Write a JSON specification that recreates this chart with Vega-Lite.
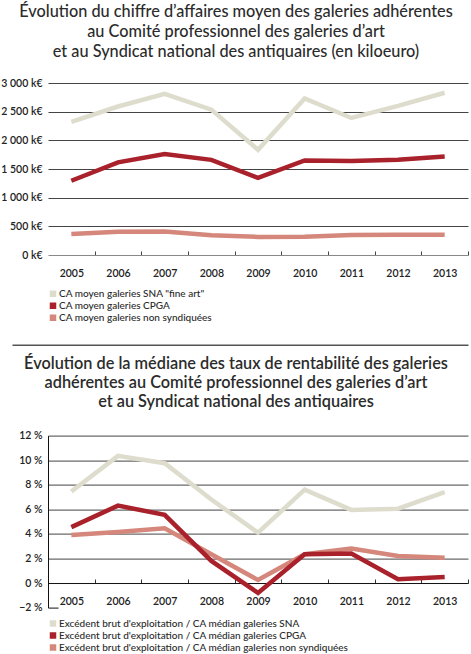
{
  "$schema": "https://vega.github.io/schema/vega-lite/v6.json",
  "padding": {"left": 0, "top": 3, "right": 0, "bottom": 0},
  "background": "white",
  "bounds": "flush",
  "spacing": 89.8,
  "config": {
    "view": {"stroke": null},
    "font": "Lato",
    "title": {"font": "Lato", "fontSize": 16.3, "fontWeight": 500, "color": "#2b2b2b", "lineHeight": 20, "anchor": "middle", "frame": "group", "dx": -22},
    "axis": {"labelFont": "Lato", "labelFontWeight": 600, "labelFontSize": 10.5, "labelColor": "#222", "title": null},
    "legend": {"labelFont": "Lato", "labelFontSize": 10, "labelFontWeight": 500, "labelColor": "#2a2a2a", "labelLimit": 450, "symbolType": "square", "symbolSize": 4, "symbolStrokeWidth": 4.5, "labelOffset": 1, "rowPadding": 0, "padding": 0, "title": null}
  },
  "datasets": {
    "ca": [
      {"year": "2005", "s": "CA moyen galeries SNA \"fine art\"", "v": 2320},
      {"year": "2006", "s": "CA moyen galeries SNA \"fine art\"", "v": 2590},
      {"year": "2007", "s": "CA moyen galeries SNA \"fine art\"", "v": 2810},
      {"year": "2008", "s": "CA moyen galeries SNA \"fine art\"", "v": 2535},
      {"year": "2009", "s": "CA moyen galeries SNA \"fine art\"", "v": 1835},
      {"year": "2010", "s": "CA moyen galeries SNA \"fine art\"", "v": 2730},
      {"year": "2011", "s": "CA moyen galeries SNA \"fine art\"", "v": 2390},
      {"year": "2012", "s": "CA moyen galeries SNA \"fine art\"", "v": 2600},
      {"year": "2013", "s": "CA moyen galeries SNA \"fine art\"", "v": 2830},
      {"year": "2005", "s": "CA moyen galeries non syndiquées", "v": 365},
      {"year": "2006", "s": "CA moyen galeries non syndiquées", "v": 405},
      {"year": "2007", "s": "CA moyen galeries non syndiquées", "v": 410},
      {"year": "2008", "s": "CA moyen galeries non syndiquées", "v": 345},
      {"year": "2009", "s": "CA moyen galeries non syndiquées", "v": 315},
      {"year": "2010", "s": "CA moyen galeries non syndiquées", "v": 320},
      {"year": "2011", "s": "CA moyen galeries non syndiquées", "v": 350},
      {"year": "2012", "s": "CA moyen galeries non syndiquées", "v": 355},
      {"year": "2013", "s": "CA moyen galeries non syndiquées", "v": 355},
      {"year": "2005", "s": "CA moyen galeries CPGA", "v": 1295},
      {"year": "2006", "s": "CA moyen galeries CPGA", "v": 1615},
      {"year": "2007", "s": "CA moyen galeries CPGA", "v": 1760},
      {"year": "2008", "s": "CA moyen galeries CPGA", "v": 1660},
      {"year": "2009", "s": "CA moyen galeries CPGA", "v": 1345},
      {"year": "2010", "s": "CA moyen galeries CPGA", "v": 1650},
      {"year": "2011", "s": "CA moyen galeries CPGA", "v": 1640},
      {"year": "2012", "s": "CA moyen galeries CPGA", "v": 1660},
      {"year": "2013", "s": "CA moyen galeries CPGA", "v": 1720}
    ],
    "ebe": [
      {"year": "2005", "s": "Excédent brut d'exploitation / CA médian galeries SNA", "v": 7.45},
      {"year": "2006", "s": "Excédent brut d'exploitation / CA médian galeries SNA", "v": 10.35},
      {"year": "2007", "s": "Excédent brut d'exploitation / CA médian galeries SNA", "v": 9.75},
      {"year": "2008", "s": "Excédent brut d'exploitation / CA médian galeries SNA", "v": 6.8},
      {"year": "2009", "s": "Excédent brut d'exploitation / CA médian galeries SNA", "v": 4.1},
      {"year": "2010", "s": "Excédent brut d'exploitation / CA médian galeries SNA", "v": 7.6},
      {"year": "2011", "s": "Excédent brut d'exploitation / CA médian galeries SNA", "v": 5.95},
      {"year": "2012", "s": "Excédent brut d'exploitation / CA médian galeries SNA", "v": 6.05},
      {"year": "2013", "s": "Excédent brut d'exploitation / CA médian galeries SNA", "v": 7.4},
      {"year": "2005", "s": "Excédent brut d'exploitation / CA médian galeries non syndiquées", "v": 3.9},
      {"year": "2006", "s": "Excédent brut d'exploitation / CA médian galeries non syndiquées", "v": 4.15},
      {"year": "2007", "s": "Excédent brut d'exploitation / CA médian galeries non syndiquées", "v": 4.45},
      {"year": "2008", "s": "Excédent brut d'exploitation / CA médian galeries non syndiquées", "v": 2.35},
      {"year": "2009", "s": "Excédent brut d'exploitation / CA médian galeries non syndiquées", "v": 0.25},
      {"year": "2010", "s": "Excédent brut d'exploitation / CA médian galeries non syndiquées", "v": 2.35},
      {"year": "2011", "s": "Excédent brut d'exploitation / CA médian galeries non syndiquées", "v": 2.8},
      {"year": "2012", "s": "Excédent brut d'exploitation / CA médian galeries non syndiquées", "v": 2.2},
      {"year": "2013", "s": "Excédent brut d'exploitation / CA médian galeries non syndiquées", "v": 2.05},
      {"year": "2005", "s": "Excédent brut d'exploitation / CA médian galeries CPGA", "v": 4.55},
      {"year": "2006", "s": "Excédent brut d'exploitation / CA médian galeries CPGA", "v": 6.3},
      {"year": "2007", "s": "Excédent brut d'exploitation / CA médian galeries CPGA", "v": 5.55},
      {"year": "2008", "s": "Excédent brut d'exploitation / CA médian galeries CPGA", "v": 1.8},
      {"year": "2009", "s": "Excédent brut d'exploitation / CA médian galeries CPGA", "v": -0.8},
      {"year": "2010", "s": "Excédent brut d'exploitation / CA médian galeries CPGA", "v": 2.35},
      {"year": "2011", "s": "Excédent brut d'exploitation / CA médian galeries CPGA", "v": 2.4},
      {"year": "2012", "s": "Excédent brut d'exploitation / CA médian galeries CPGA", "v": 0.3},
      {"year": "2013", "s": "Excédent brut d'exploitation / CA médian galeries CPGA", "v": 0.5}
    ]
  },
  "vconcat": [
    {
      "width": 420,
      "height": 172,
      "title": {"text": ["Évolution du chiffre d’affaires moyen des galeries adhérentes", "au Comité professionnel des galeries d’art", "et au Syndicat national des antiquaires (en kiloeuro)"], "offset": 18},
      "data": {"name": "ca"},
      "mark": {"type": "line", "strokeWidth": 4.5, "strokeCap": "butt", "strokeJoin": "miter"},
      "encoding": {
        "x": {"field": "year", "type": "ordinal", "scale": {"type": "point", "padding": 0.5},
          "axis": {"labelAngle": 0, "domainColor": "#888", "domainWidth": 1, "tickColor": "#444", "tickSize": -4, "tickOffset": 23.33, "labelOffset": -23.33, "labelPadding": 17, "grid": false}},
        "y": {"field": "v", "type": "quantitative", "scale": {"domain": [0, 3000], "nice": false},
          "axis": {"values": [0, 500, 1000, 1500, 2000, 2500, 3000], "labelExpr": "replace(format(datum.value, ',d'), ',', ' ') + ' k€'", "domain": false, "ticks": false, "labelPadding": 6, "grid": true, "gridColor": "#444", "gridWidth": 1, "gridOpacity": {"condition": {"test": "datum.value <= 0", "value": 0}, "value": 1}}},
        "color": {"field": "s", "type": "nominal", "scale": {"domain": ["CA moyen galeries SNA \"fine art\"", "CA moyen galeries CPGA", "CA moyen galeries non syndiquées"], "range": ["#deddcd", "#a8212b", "#d4877a"]},
          "legend": {"orient": "none", "legendX": 0, "legendY": 205, "direction": "vertical", "symbolType": "square", "symbolSize": 4, "symbolStrokeWidth": 4.5, "clipHeight": 11.3, "rowPadding": 0, "labelLimit": 450}}
      }
    },
    {
      "width": 456,
      "height": 1,
      "data": {"values": [{"v": 0}]},
      "mark": {"type": "point", "opacity": 0},
      "encoding": {
        "x": {"field": "v", "type": "quantitative", "axis": {"orient": "top", "position": -36, "domain": true, "domainColor": "#555", "domainWidth": 1.5, "ticks": false, "labels": false, "grid": false}}
      }
    },
    {
      "width": 420,
      "height": 172,
      "title": {"text": ["Évolution de la médiane des taux de rentabilité des galeries", "adhérentes au Comité professionnel des galeries d’art", "et au Syndicat national des antiquaires"], "offset": 20, "lineHeight": 19, "fontWeight": 600},
      "data": {"name": "ebe"},
      "mark": {"type": "line", "strokeWidth": 4.5, "strokeCap": "butt", "strokeJoin": "miter"},
      "encoding": {
        "x": {"field": "year", "type": "ordinal", "scale": {"type": "point", "padding": 0.5},
          "axis": {"labelAngle": 0, "offset": -24.57, "domainColor": "#111", "domainWidth": 1, "tickColor": "#333", "tickSize": -4, "tickOffset": 23.33, "labelOffset": -23.33, "labelPadding": 17, "grid": false}},
        "y": {"field": "v", "type": "quantitative", "scale": {"domain": [-2, 12], "nice": false},
          "axis": {"values": [-2, 0, 2, 4, 6, 8, 10, 12], "labelExpr": "format(datum.value, 'd') + ' %'", "domain": true, "domainColor": "#111", "ticks": true, "tickSize": -10, "tickColor": "#111", "tickOpacity": {"condition": {"test": "datum.value < -1", "value": 1}, "value": 0}, "labelPadding": 16, "grid": true, "gridColor": "#444", "gridWidth": 1, "gridOpacity": {"condition": {"test": "datum.value <= 0", "value": 0}, "value": 1}}},
        "color": {"field": "s", "type": "nominal", "scale": {"domain": ["Excédent brut d'exploitation / CA médian galeries SNA", "Excédent brut d'exploitation / CA médian galeries CPGA", "Excédent brut d'exploitation / CA médian galeries non syndiquées"], "range": ["#deddcd", "#a8212b", "#d4877a"]},
          "legend": {"orient": "none", "legendX": 0, "legendY": 182, "direction": "vertical", "symbolType": "square", "symbolSize": 4, "symbolStrokeWidth": 4.5, "clipHeight": 12, "rowPadding": 0, "labelLimit": 450}}
      }
    }
  ],
  "resolve": {"scale": {"color": "independent", "x": "independent", "y": "independent"}}
}
